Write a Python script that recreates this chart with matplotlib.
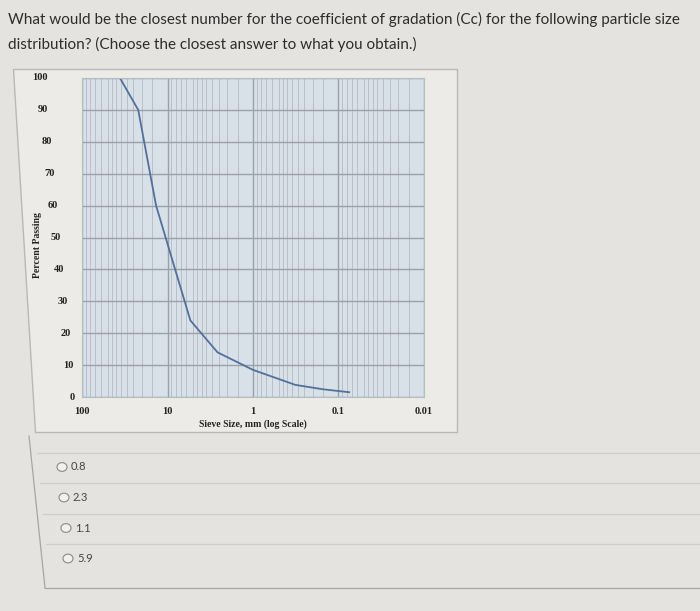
import numpy as np
import matplotlib
matplotlib.use("Agg")
import matplotlib.pyplot as plt
import matplotlib.transforms as mtransforms
from matplotlib.ticker import NullFormatter
from matplotlib.patches import Polygon, Circle
from matplotlib.lines import Line2D

# data
sieve_mm = [36, 22, 13.6, 5.4, 2.6, 1.0, 0.32, 0.15, 0.075]
pct_passing = [100, 90, 60, 24, 14, 8.5, 3.8, 2.4, 1.5]
x_ticks = [100, 10, 1, 0.1, 0.01]
x_tick_labels = ["100", "10", "1", "0.1", "0.01"]
y_ticks = [0, 10, 20, 30, 40, 50, 60, 70, 80, 90, 100]
choices = ["0.8", "2.3", "1.1", "5.9"]

question = ("What would be the closest number for the coefficient of gradation (Cc) for the following particle size\n"
            "distribution? (Choose the closest answer to what you obtain.)")

W, H = 700, 611
page_bg = "#e5e3df"
panel_bg = "#ecebe7"
plot_bg = "#d9e1e8"
line_col = "#52709c"
serif = ["Liberation Serif", "DejaVu Serif"]

fig = plt.figure(figsize=(W / 100, H / 100), dpi=100)
fig.patch.set_facecolor(page_bg)


def px(x, y):
    # pixel (from top-left) -> figure fraction
    return x / W, 1 - y / H


# question text
fig.text(*px(8, 32), question, fontsize=11, family="Lato", color="#2d2d2d",
         va="center", ha="left", linespacing=1.85)

# chart panel (photo is a bit skewed)
panel = Polygon([px(13, 69), px(457, 69), px(457, 432), px(35, 432)], closed=True,
                transform=fig.transFigure, facecolor=panel_bg, edgecolor="#b9b8b4", lw=1,
                zorder=-5)
fig.patches.append(panel)

# plot area
left, right, top, bottom = 82, 424, 78, 397
ax = fig.add_axes([left / W, 1 - bottom / H, (right - left) / W, (bottom - top) / H])
ax.set_zorder(2)
ax.set_facecolor(plot_bg)
ax.set_xscale("log")
ax.set_xlim(100, 0.01)
ax.set_ylim(0, 100)

ax.set_xticks(x_ticks)
ax.set_xticks([d * s for d in [0.01, 0.1, 1, 10] for s in
               [1.5, 2, 2.5, 3, 3.5, 4, 4.5, 5, 6, 7, 8, 9]], minor=True)
ax.xaxis.set_minor_formatter(NullFormatter())
ax.set_yticks(y_ticks)
ax.grid(True, which="major", axis="both", color="#9aa1a9", lw=1.0)
ax.grid(True, which="minor", axis="x", color="#b3bac2", lw=0.6)
ax.set_axisbelow(True)
ax.tick_params(which="both", length=0, labelleft=False)
ax.set_xticklabels(x_tick_labels, fontsize=7.5, fontweight="bold", family=serif, color="#222222")
ax.tick_params(axis="x", pad=7)
for s in ax.spines.values():
    s.set_color("#b5bcc4")
    s.set_linewidth(0.8)

ax.plot(sieve_mm, pct_passing, color=line_col, lw=1.3)

# y tick labels drift right toward the bottom in the photo
ytr = mtransforms.blended_transform_factory(mtransforms.IdentityTransform(), ax.transData)
for v in y_ticks:
    ax.text(40 + 0.32 * (100 - v), v, str(v), transform=ytr, ha="center", va="center",
            fontsize=7.5, fontweight="bold", family=serif, color="#222222", clip_on=False)

ax.set_xlabel("Sieve Size, mm (log Scale)", fontsize=7, fontweight="bold", family=serif,
              color="#222222", labelpad=3)
fig.text(*px(38, 245), "Percent Passing", rotation=90, fontsize=7, fontweight="bold",
         family=serif, color="#222222", ha="center", va="center")

# answer options box
fig.lines.append(Line2D([29 / W, 45 / W], [1 - 436 / H, 1 - 588 / H], transform=fig.transFigure,
                        color="#a8a6a2", lw=0.9))
fig.lines.append(Line2D([45 / W, 1], [1 - 588 / H] * 2, transform=fig.transFigure,
                        color="#a8a6a2", lw=0.9))
for i, c in enumerate(choices):
    ysep = 453 + 30.3 * i
    fig.lines.append(Line2D([37 / W + i * 3 / W, 1], [1 - ysep / H] * 2, transform=fig.transFigure,
                            color="#cfcdc9", lw=0.9))
    cx, cy = 62 + 2 * i, 467 + 30.5 * i
    fig.patches.append(Circle(px(cx, cy), radius=5 / W, transform=fig.transFigure,
                              facecolor="#f2f1ee", edgecolor="#8a8a8a", lw=0.8))
    fig.text(*px(cx + 9, cy), c, fontsize=8, family="Lato", color="#444444", va="center", ha="left")

fig.savefig("out.png", dpi=100, facecolor=fig.get_facecolor())
